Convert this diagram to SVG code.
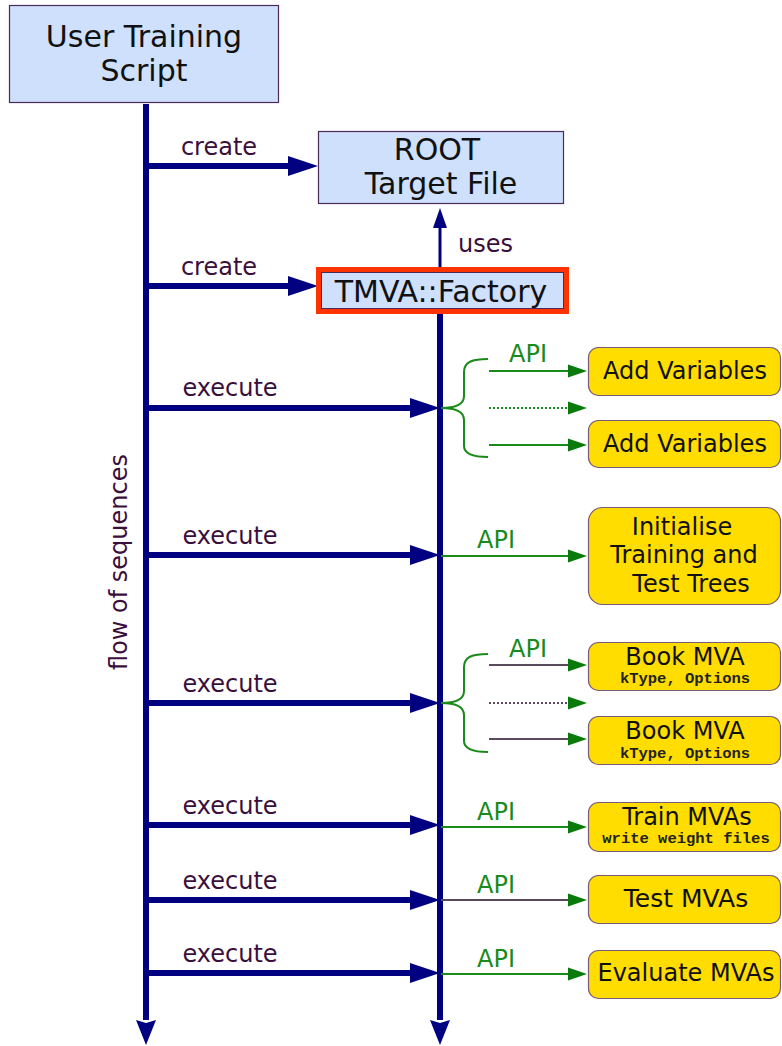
<svg xmlns="http://www.w3.org/2000/svg" width="782" height="1046" viewBox="0 0 782 1046">
  <style>
    .box { fill: #cfe0fc; stroke: #4a2a5a; stroke-width: 1.2; }
    .task { fill: #ffdd00; stroke: #7a5a7a; stroke-width: 1.2; }
    .t { font-family: "DejaVu Sans", "Liberation Sans", sans-serif; fill: #111; text-anchor: middle; }
    .lbl { font-family: "DejaVu Sans", "Liberation Sans", sans-serif; fill: #3b0f3b; font-size: 24px; }
    .api { font-family: "DejaVu Sans", "Liberation Sans", sans-serif; fill: #1a8a1a; font-size: 24px; text-anchor: middle; }
    .mono { font-family: "Liberation Mono", "DejaVu Sans Mono", monospace; font-weight: bold; fill: #222; text-anchor: middle; font-size: 15.5px; }
    .main { stroke: #000080; stroke-width: 6; fill: none; }
    .call { stroke: #000080; stroke-width: 6; fill: none; marker-end: url(#navyHead); }
    .green { stroke: #1a8a1a; stroke-width: 2; fill: none; marker-end: url(#greenHead); }
    .book { stroke: #5b4a5b; stroke-width: 2; fill: none; marker-end: url(#greenHead); }
    .dot { stroke-dasharray: 2 2; }
    .brace { stroke: #1a8a1a; stroke-width: 2; fill: none; }
  </style>
  <defs>
    <marker id="navyHead" markerUnits="userSpaceOnUse" markerWidth="30" markerHeight="20" refX="0" refY="10" orient="auto" overflow="visible">
      <path d="M0,0 L30,10 L0,20 z" fill="#000080"/>
    </marker>
    <marker id="navyEnd" markerUnits="userSpaceOnUse" markerWidth="25" markerHeight="20" refX="0" refY="10" orient="auto" overflow="visible">
      <path d="M0,0 L25,10 L0,20 L3,10 z" fill="#000080"/>
    </marker>
    <marker id="usesHead" markerUnits="userSpaceOnUse" markerWidth="20" markerHeight="14" refX="0" refY="7" orient="auto" overflow="visible">
      <path d="M0,0 L20,7 L0,14 z" fill="#000080"/>
    </marker>
    <marker id="greenHead" markerUnits="userSpaceOnUse" markerWidth="19" markerHeight="13" refX="0" refY="6.5" orient="auto" overflow="visible">
      <path d="M0,0 L19,6.5 L0,13 z" fill="#0a7a0a"/>
    </marker>
  </defs>

  <!-- connectors -->
  <g id="connectors">
    <!-- sequence lifelines -->
    <line class="main" x1="146" y1="104" x2="146" y2="1020" marker-end="url(#navyEnd)"/>
    <line class="main" x1="440" y1="313" x2="440" y2="1020" stroke-width="5" marker-end="url(#navyEnd)"/>

    <!-- create calls -->
    <line class="call" x1="146" y1="166" x2="288" y2="166"/>
    <line class="call" x1="146" y1="286" x2="288" y2="286"/>
    <text class="lbl" x="219" y="155" text-anchor="middle">create</text>
    <text class="lbl" x="219" y="275" text-anchor="middle">create</text>

    <!-- uses -->
    <line x1="440" y1="268" x2="440" y2="228" stroke="#000080" stroke-width="3" marker-end="url(#usesHead)"/>
    <text class="lbl" x="458" y="252">uses</text>

    <!-- execute calls -->
    <line class="call" x1="146" y1="408" x2="410" y2="408"/>
    <line class="call" x1="146" y1="555" x2="410" y2="555"/>
    <line class="call" x1="146" y1="703" x2="410" y2="703"/>
    <line class="call" x1="146" y1="825" x2="410" y2="825"/>
    <line class="call" x1="146" y1="900" x2="410" y2="900"/>
    <line class="call" x1="146" y1="973" x2="410" y2="973"/>
    <text class="lbl" x="230" y="396" text-anchor="middle">execute</text>
    <text class="lbl" x="230" y="544" text-anchor="middle">execute</text>
    <text class="lbl" x="230" y="692" text-anchor="middle">execute</text>
    <text class="lbl" x="230" y="814" text-anchor="middle">execute</text>
    <text class="lbl" x="230" y="889" text-anchor="middle">execute</text>
    <text class="lbl" x="230" y="962" text-anchor="middle">execute</text>

    <!-- Add Variables fan-out -->
    <path class="brace" d="M488,359 C472,359 464,362 464,372 L464,396 C464,404 456,408 441,408 C456,408 464,412 464,420 L464,446 C464,454 472,457 488,457"/>
    <line class="green" x1="489" y1="371" x2="568" y2="371"/>
    <line class="green dot" x1="489" y1="408" x2="568" y2="408"/>
    <line class="green" x1="489" y1="445" x2="568" y2="445"/>
    <text class="api" x="528" y="362">API</text>

    <!-- Initialise -->
    <line class="green" x1="441" y1="556" x2="568" y2="556"/>
    <text class="api" x="496" y="548">API</text>

    <!-- Book MVA fan-out -->
    <path class="brace" d="M488,654 C472,654 464,657 464,667 L464,691 C464,699 456,703 441,703 C456,703 464,707 464,715 L464,741 C464,749 472,752 488,752"/>
    <line class="book" x1="489" y1="665" x2="568" y2="665"/>
    <line class="book dot" x1="489" y1="703" x2="568" y2="703"/>
    <line class="book" x1="489" y1="739" x2="568" y2="739"/>
    <text class="api" x="528" y="657">API</text>

    <!-- Train / Test / Evaluate -->
    <line class="green" x1="441" y1="827" x2="568" y2="827"/>
    <text class="api" x="496" y="820">API</text>
    <line class="book" x1="441" y1="900" x2="568" y2="900"/>
    <text class="api" x="496" y="893">API</text>
    <line class="green" x1="441" y1="974" x2="568" y2="974"/>
    <text class="api" x="496" y="967">API</text>

    <!-- lifeline caption -->
    <text class="lbl" transform="translate(127,562) rotate(-90)" text-anchor="middle">flow of sequences</text>
  </g>

  <!-- nodes -->
  <g id="user-script">
    <rect class="box" x="9.5" y="5.5" width="269" height="97"/>
    <text class="t" x="144" y="47" font-size="30">User Training</text>
    <text class="t" x="144" y="81" font-size="30">Script</text>
  </g>

  <g id="root-file">
    <rect class="box" x="318.5" y="131.5" width="245" height="72"/>
    <text class="t" x="437" y="160" font-size="30">ROOT</text>
    <text class="t" x="441" y="194" font-size="30">Target File</text>
  </g>

  <g id="factory">
    <rect x="318.5" y="269.5" width="248" height="42" fill="#cfe0fc" stroke="#ff3300" stroke-width="5"/>
    <rect x="321.5" y="272.5" width="242" height="36" fill="none" stroke="#4a2a5a" stroke-width="1"/>
    <text class="t" x="441" y="302" font-size="30">TMVA::Factory</text>
  </g>

  <g id="add-variables-1">
    <rect class="task" x="588.5" y="347.5" width="192" height="48" rx="10"/>
    <text class="t" x="685" y="379" font-size="24">Add Variables</text>
  </g>

  <g id="add-variables-2">
    <rect class="task" x="588.5" y="420.5" width="192" height="47" rx="10"/>
    <text class="t" x="685" y="452" font-size="24">Add Variables</text>
  </g>

  <g id="initialise-trees">
    <rect class="task" x="588.5" y="507.5" width="192" height="97" rx="14"/>
    <text class="t" x="682" y="535" font-size="24">Initialise</text>
    <text class="t" x="684" y="563" font-size="24">Training and</text>
    <text class="t" x="691" y="592" font-size="24">Test Trees</text>
  </g>

  <g id="book-mva-1">
    <rect class="task" x="588.5" y="642.5" width="192" height="48" rx="10"/>
    <text class="t" x="685" y="665" font-size="24">Book MVA</text>
    <text class="mono" x="685" y="683">kType, Options</text>
  </g>

  <g id="book-mva-2">
    <rect class="task" x="588.5" y="716.5" width="192" height="48" rx="10"/>
    <text class="t" x="685" y="739" font-size="24">Book MVA</text>
    <text class="mono" x="685" y="758">kType, Options</text>
  </g>

  <g id="train-mvas">
    <rect class="task" x="588.5" y="802.5" width="192" height="49" rx="10"/>
    <text class="t" x="687" y="825" font-size="24">Train MVAs</text>
    <text class="mono" x="686" y="843">write weight files</text>
  </g>

  <g id="test-mvas">
    <rect class="task" x="588.5" y="875.5" width="192" height="48" rx="10"/>
    <text class="t" x="686" y="907" font-size="25">Test MVAs</text>
  </g>

  <g id="evaluate-mvas">
    <rect class="task" x="588.5" y="950.5" width="192" height="48" rx="10"/>
    <text class="t" x="686" y="981" font-size="24">Evaluate MVAs</text>
  </g>
</svg>
